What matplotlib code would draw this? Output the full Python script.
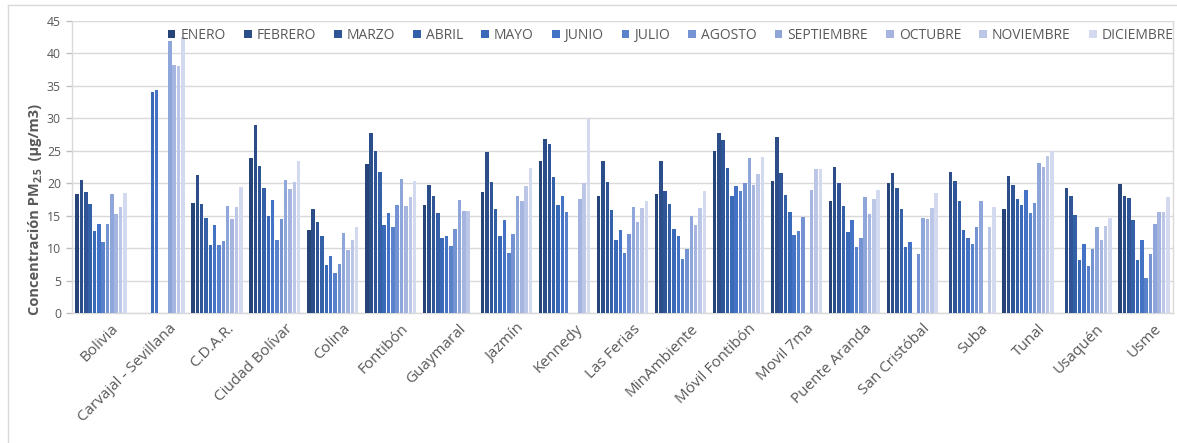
import numpy as np
import matplotlib
matplotlib.use("Agg")
import matplotlib.pyplot as plt
import matplotlib.transforms as mtransforms
from matplotlib.lines import Line2D

plt.rcParams['font.family'] = ['Open Sans', 'DejaVu Sans']

nan = np.nan

stations = ["Bolivia", "Carvajal - Sevillana", "C.D.A.R.", "Ciudad Bolívar", "Colina",
            "Fontibón", "Guaymaral", "Jazmín", "Kennedy", "Las Ferias", "MinAmbiente",
            "Móvil Fontibón", "Movil 7ma", "Puente Aranda", "San Cristóbal", "Suba",
            "Tunal", "Usaquén", "Usme"]

months = ["ENERO", "FEBRERO", "MARZO", "ABRIL", "MAYO", "JUNIO", "JULIO", "AGOSTO",
          "SEPTIEMBRE", "OCTUBRE", "NOVIEMBRE", "DICIEMBRE"]

enero      = [18.3, nan, 16.9, 23.9, 12.8, 22.9, 16.6, 18.7, 23.5, 18.0, 18.3, 24.9, 20.4, 17.2, 20.1, nan, 16.1, nan, 19.9]
febrero    = [20.5, nan, 21.2, 28.9, 16.1, 27.8, 19.8, 24.8, 26.8, 23.5, 23.5, 27.7, 27.1, 22.5, 21.6, 21.7, 21.1, 19.3, 18.0]
marzo      = [18.6, nan, 16.8, 22.7, 14.1, 25.0, 18.1, 20.2, 26.1, 20.2, 18.8, 26.6, 21.5, 20.0, 19.2, 20.4, 19.8, 18.0, 17.7]
abril      = [16.8, nan, 14.6, 19.3, 11.8, 21.7, 15.4, 16.1, 20.9, 15.9, 16.8, 22.4, 18.2, 16.5, 16.0, 17.2, 17.5, 15.1, 14.3]
mayo       = [12.6, 34.0, 10.5, 14.9, 7.4, 13.6, 11.6, 11.8, 16.6, 11.2, 12.9, 18.1, 15.6, 12.5, 10.1, 12.8, 16.7, 8.1, 8.2]
junio      = [13.7, 34.3, 13.6, 17.4, 8.8, 15.4, 11.9, 14.3, 18.0, 12.8, 11.8, 19.5, 12.0, 14.3, 10.9, 11.5, 19.0, 10.6, 11.2]
julio      = [10.9, nan, 10.5, 11.2, 6.2, 13.3, 10.3, 9.2, 15.5, 9.2, 8.3, 18.8, 12.6, 10.2, nan, 10.6, 15.4, 7.2, 5.4]
agosto     = [13.7, nan, 11.1, 14.5, 7.6, 16.7, 12.9, 12.2, nan, 12.1, 9.8, 20.0, 14.8, 11.5, 9.1, 13.3, 17.0, 9.8, 9.1]
septiembre = [18.3, 41.9, 16.5, 20.5, 12.4, 20.7, 17.4, 18.1, nan, 16.3, 15.0, 23.9, nan, 17.9, 14.6, 17.3, 23.1, 13.3, 13.7]
octubre    = [15.3, 38.2, 14.5, 19.1, 9.7, 16.5, 15.7, 17.3, 17.6, 14.1, 13.5, 19.8, 19.0, 15.2, 14.5, nan, 22.5, 11.3, 15.6]
noviembre  = [16.4, 38.1, 16.3, 20.2, 11.2, 17.8, 15.7, 19.5, 20.0, 16.2, 16.2, 21.4, 22.2, 17.5, 16.2, 13.3, 24.2, 13.4, 15.5]
diciembre  = [18.5, 42.5, 19.4, 23.5, 13.3, 20.4, nan, 22.3, 29.9, 17.3, 18.8, 24.1, 22.2, 19.0, 18.5, 16.4, 24.9, 14.7, 17.8]

series = [enero, febrero, marzo, abril, mayo, junio, julio, agosto,
          septiembre, octubre, noviembre, diciembre]

colors = ['#264478', '#2B4D88', '#2F5597', '#3460A8', '#3A69B8', '#4472C4',
          '#5A82CB', '#7593D3', '#8FA6DA', '#A5B5DF', '#BCC7E7', '#D3DAF0']

W, H = 1177, 443
fig = plt.figure(figsize=(W / 100, H / 100), dpi=100)
ax = fig.add_axes([72 / W, 1 - 313 / H, (1173 - 72) / W, (313 - 21) / H])

x = np.arange(len(stations))
step = 0.075
bw = 0.06
for k, (vals, c, m) in enumerate(zip(series, colors, months)):
    ax.bar(x + (k - 5.5) * step, vals, width=bw, color=c, label=m, zorder=3)

ax.set_xlim(-0.5, len(stations) - 0.5)
ax.set_ylim(0, 45)
ax.set_yticks(np.arange(0, 46, 5))
ax.yaxis.grid(True, color='#D9D9D9', linewidth=1.0, zorder=0)
ax.set_axisbelow(True)

grey = '#595959'
for s in ['left', 'bottom', 'right']:
    ax.spines[s].set_color('#D9D9D9')
    ax.spines[s].set_linewidth(1.0)
ax.spines['top'].set_visible(False)

ax.tick_params(axis='y', colors='#BFBFBF', labelcolor=grey, labelsize=8.8, length=4, width=1, pad=4)
ax.tick_params(axis='x', length=0, labelcolor=grey, labelsize=11, pad=6)
ax.set_xticks(x)
ax.set_xticklabels(stations, rotation=45, ha='right', rotation_mode='anchor')
shift = mtransforms.ScaledTranslation(10 / 100, 0, fig.dpi_scale_trans)
for lab in ax.get_xticklabels():
    lab.set_transform(lab.get_transform() + shift)

# y-axis title built from pieces so the subscript "2.5" stays legible
renderer = fig.canvas.get_renderer()
xl = 35 / W
t1 = fig.text(xl, 128 / H, "Concentración PM", rotation=90, ha='center', va='bottom',
              fontsize=10.5, fontweight='bold', color=grey)
bb1 = t1.get_window_extent(renderer)
t2 = fig.text(xl + 4 / W, bb1.y1 / H, "2.5", rotation=90, ha='center', va='bottom',
              fontsize=7.5, fontweight='bold', color=grey)
bb2 = t2.get_window_extent(renderer)
t3 = fig.text(xl, bb2.y1 / H, "  (µg/m3)", rotation=90, ha='center', va='bottom',
              fontsize=10.5, fontweight='bold', color=grey)

leg = ax.legend(ncol=12, loc='upper left', bbox_to_anchor=(0.087, 0.976),
                frameon=False, fontsize=10, handlelength=0.55, handleheight=0.55,
                handletextpad=0.35, columnspacing=1.32, borderpad=0, borderaxespad=0)
for t in leg.get_texts():
    t.set_color(grey)

# outer chart-area border
fig.add_artist(Line2D([8 / W, 8 / W], [0, 1 - 5 / H], transform=fig.transFigure,
                      color='#D9D9D9', linewidth=1))
fig.add_artist(Line2D([8 / W, 1], [1 - 5 / H, 1 - 5 / H], transform=fig.transFigure,
                      color='#D9D9D9', linewidth=1))

fig.savefig('out.png', dpi=100, facecolor='white')
